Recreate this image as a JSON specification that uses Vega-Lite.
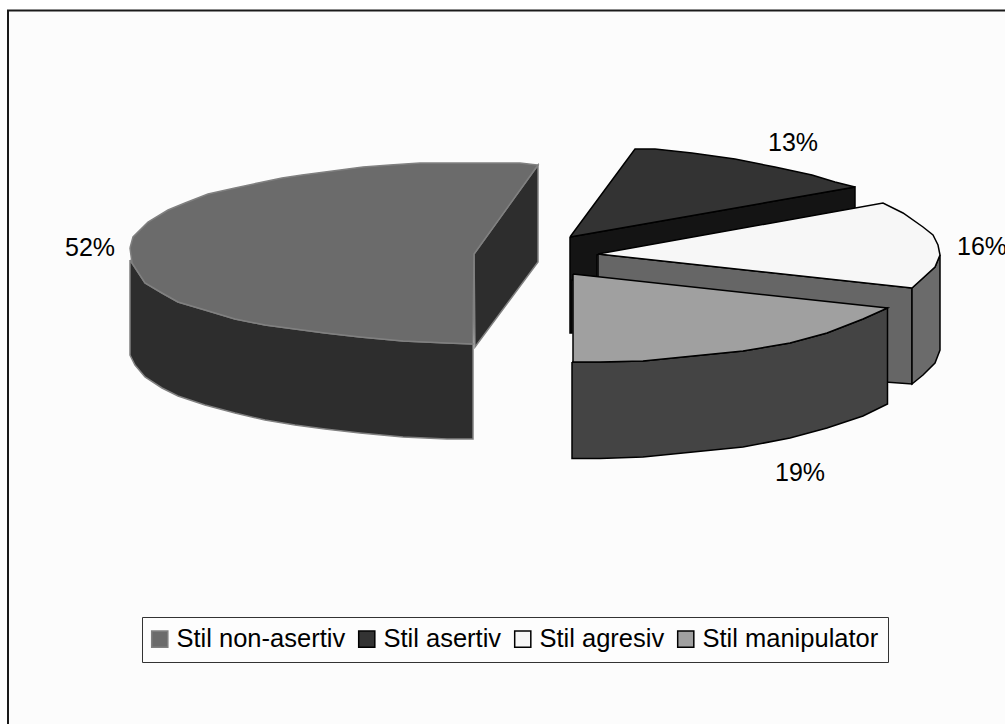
{"$schema":"https://vega.github.io/schema/vega-lite/v6.json","width":1005,"height":724,"autosize":{"type":"none"},"padding":0,"background":"#ffffff","config":{"view":{"stroke":null}},
"datasets":{
"frame":[{"x":1012,"y":732,"o":0},{"x":8,"y":732,"o":1},{"x":8,"y":10.5,"o":2},{"x":1012,"y":10.5,"o":3}],
"sides":[
{"fata":"non-asertiv exterior","o":0,"x":130,"y":260},{"fata":"non-asertiv exterior","o":1,"x":145,"y":283},{"fata":"non-asertiv exterior","o":2,"x":162,"y":293},{"fata":"non-asertiv exterior","o":3,"x":178,"y":302},{"fata":"non-asertiv exterior","o":4,"x":205,"y":310},{"fata":"non-asertiv exterior","o":5,"x":235,"y":319},{"fata":"non-asertiv exterior","o":6,"x":265,"y":325},{"fata":"non-asertiv exterior","o":7,"x":295,"y":329},{"fata":"non-asertiv exterior","o":8,"x":325,"y":333},{"fata":"non-asertiv exterior","o":9,"x":360,"y":337},{"fata":"non-asertiv exterior","o":10,"x":403,"y":341},{"fata":"non-asertiv exterior","o":11,"x":447,"y":343},{"fata":"non-asertiv exterior","o":12,"x":473,"y":344},{"fata":"non-asertiv exterior","o":13,"x":473,"y":439},{"fata":"non-asertiv exterior","o":14,"x":447,"y":439},{"fata":"non-asertiv exterior","o":15,"x":403,"y":437},{"fata":"non-asertiv exterior","o":16,"x":360,"y":433},{"fata":"non-asertiv exterior","o":17,"x":325,"y":429},{"fata":"non-asertiv exterior","o":18,"x":295,"y":425},{"fata":"non-asertiv exterior","o":19,"x":265,"y":420},{"fata":"non-asertiv exterior","o":20,"x":235,"y":413},{"fata":"non-asertiv exterior","o":21,"x":205,"y":405},{"fata":"non-asertiv exterior","o":22,"x":178,"y":396},{"fata":"non-asertiv exterior","o":23,"x":162,"y":388},{"fata":"non-asertiv exterior","o":24,"x":145,"y":377},{"fata":"non-asertiv exterior","o":25,"x":135,"y":365},{"fata":"non-asertiv exterior","o":26,"x":130,"y":355},{"fata":"non-asertiv exterior","o":27,"x":130,"y":260},
{"fata":"non-asertiv interior","o":0,"x":474,"y":254},{"fata":"non-asertiv interior","o":1,"x":538,"y":165},{"fata":"non-asertiv interior","o":2,"x":538,"y":262},{"fata":"non-asertiv interior","o":3,"x":475,"y":347},{"fata":"non-asertiv interior","o":4,"x":474,"y":254},
{"fata":"asertiv interior","o":0,"x":570,"y":237},{"fata":"asertiv interior","o":1,"x":855,"y":187},{"fata":"asertiv interior","o":2,"x":855,"y":209},{"fata":"asertiv interior","o":3,"x":597,"y":255},{"fata":"asertiv interior","o":4,"x":597,"y":280},{"fata":"asertiv interior","o":5,"x":572,"y":280},{"fata":"asertiv interior","o":6,"x":572,"y":333},{"fata":"asertiv interior","o":7,"x":570,"y":333},{"fata":"asertiv interior","o":8,"x":570,"y":237},
{"fata":"agresiv interior","o":0,"x":598,"y":254},{"fata":"agresiv interior","o":1,"x":912,"y":288},{"fata":"agresiv interior","o":2,"x":912,"y":384},{"fata":"agresiv interior","o":3,"x":885,"y":382},{"fata":"agresiv interior","o":4,"x":598,"y":300},{"fata":"agresiv interior","o":5,"x":598,"y":254},
{"fata":"agresiv exterior","o":0,"x":912,"y":288},{"fata":"agresiv exterior","o":1,"x":923,"y":278},{"fata":"agresiv exterior","o":2,"x":935,"y":267},{"fata":"agresiv exterior","o":3,"x":940,"y":255},{"fata":"agresiv exterior","o":4,"x":940,"y":350},{"fata":"agresiv exterior","o":5,"x":935,"y":363},{"fata":"agresiv exterior","o":6,"x":923,"y":375},{"fata":"agresiv exterior","o":7,"x":912,"y":384},{"fata":"agresiv exterior","o":8,"x":912,"y":288},
{"fata":"manipulator exterior","o":0,"x":572,"y":362},{"fata":"manipulator exterior","o":1,"x":600,"y":362},{"fata":"manipulator exterior","o":2,"x":643,"y":361},{"fata":"manipulator exterior","o":3,"x":693,"y":356},{"fata":"manipulator exterior","o":4,"x":743,"y":351},{"fata":"manipulator exterior","o":5,"x":790,"y":343},{"fata":"manipulator exterior","o":6,"x":827,"y":333},{"fata":"manipulator exterior","o":7,"x":863,"y":319},{"fata":"manipulator exterior","o":8,"x":887.5,"y":308},{"fata":"manipulator exterior","o":9,"x":887.5,"y":404},{"fata":"manipulator exterior","o":10,"x":863,"y":416},{"fata":"manipulator exterior","o":11,"x":827,"y":428},{"fata":"manipulator exterior","o":12,"x":790,"y":438},{"fata":"manipulator exterior","o":13,"x":743,"y":447},{"fata":"manipulator exterior","o":14,"x":693,"y":452},{"fata":"manipulator exterior","o":15,"x":643,"y":457},{"fata":"manipulator exterior","o":16,"x":600,"y":458.5},{"fata":"manipulator exterior","o":17,"x":572,"y":458.5},{"fata":"manipulator exterior","o":18,"x":572,"y":362}
],
"tops":[
{"stil":"Stil non-asertiv","o":0,"x":130,"y":248},{"stil":"Stil non-asertiv","o":1,"x":133,"y":237},{"stil":"Stil non-asertiv","o":2,"x":148,"y":222},{"stil":"Stil non-asertiv","o":3,"x":168,"y":210},{"stil":"Stil non-asertiv","o":4,"x":185,"y":203},{"stil":"Stil non-asertiv","o":5,"x":208,"y":194},{"stil":"Stil non-asertiv","o":6,"x":235,"y":188},{"stil":"Stil non-asertiv","o":7,"x":258,"y":183},{"stil":"Stil non-asertiv","o":8,"x":282,"y":178},{"stil":"Stil non-asertiv","o":9,"x":302,"y":175},{"stil":"Stil non-asertiv","o":10,"x":325,"y":172},{"stil":"Stil non-asertiv","o":11,"x":363,"y":167},{"stil":"Stil non-asertiv","o":12,"x":390,"y":165},{"stil":"Stil non-asertiv","o":13,"x":420,"y":163},{"stil":"Stil non-asertiv","o":14,"x":520,"y":163},{"stil":"Stil non-asertiv","o":15,"x":538,"y":165},{"stil":"Stil non-asertiv","o":16,"x":474,"y":254},{"stil":"Stil non-asertiv","o":17,"x":473,"y":344},{"stil":"Stil non-asertiv","o":18,"x":447,"y":343},{"stil":"Stil non-asertiv","o":19,"x":403,"y":341},{"stil":"Stil non-asertiv","o":20,"x":360,"y":337},{"stil":"Stil non-asertiv","o":21,"x":325,"y":333},{"stil":"Stil non-asertiv","o":22,"x":295,"y":329},{"stil":"Stil non-asertiv","o":23,"x":265,"y":325},{"stil":"Stil non-asertiv","o":24,"x":235,"y":319},{"stil":"Stil non-asertiv","o":25,"x":205,"y":310},{"stil":"Stil non-asertiv","o":26,"x":178,"y":302},{"stil":"Stil non-asertiv","o":27,"x":162,"y":293},{"stil":"Stil non-asertiv","o":28,"x":145,"y":283},{"stil":"Stil non-asertiv","o":29,"x":132,"y":263},{"stil":"Stil non-asertiv","o":30,"x":130,"y":248},
{"stil":"Stil asertiv","o":0,"x":570,"y":237},{"stil":"Stil asertiv","o":1,"x":635,"y":149},{"stil":"Stil asertiv","o":2,"x":655,"y":149},{"stil":"Stil asertiv","o":3,"x":692,"y":153},{"stil":"Stil asertiv","o":4,"x":735,"y":159},{"stil":"Stil asertiv","o":5,"x":775,"y":167},{"stil":"Stil asertiv","o":6,"x":812,"y":175},{"stil":"Stil asertiv","o":7,"x":835,"y":182},{"stil":"Stil asertiv","o":8,"x":855,"y":187},{"stil":"Stil asertiv","o":9,"x":570,"y":237},
{"stil":"Stil agresiv","o":0,"x":598,"y":254},{"stil":"Stil agresiv","o":1,"x":883,"y":203},{"stil":"Stil agresiv","o":2,"x":903,"y":213},{"stil":"Stil agresiv","o":3,"x":923,"y":227},{"stil":"Stil agresiv","o":4,"x":933,"y":235},{"stil":"Stil agresiv","o":5,"x":938,"y":245},{"stil":"Stil agresiv","o":6,"x":940,"y":255},{"stil":"Stil agresiv","o":7,"x":935,"y":267},{"stil":"Stil agresiv","o":8,"x":923,"y":278},{"stil":"Stil agresiv","o":9,"x":912,"y":288},{"stil":"Stil agresiv","o":10,"x":598,"y":254},
{"stil":"Stil manipulator","o":0,"x":573,"y":274},{"stil":"Stil manipulator","o":1,"x":887.5,"y":308},{"stil":"Stil manipulator","o":2,"x":863,"y":319},{"stil":"Stil manipulator","o":3,"x":827,"y":333},{"stil":"Stil manipulator","o":4,"x":790,"y":343},{"stil":"Stil manipulator","o":5,"x":743,"y":351},{"stil":"Stil manipulator","o":6,"x":693,"y":356},{"stil":"Stil manipulator","o":7,"x":643,"y":361},{"stil":"Stil manipulator","o":8,"x":600,"y":362},{"stil":"Stil manipulator","o":9,"x":573,"y":362},{"stil":"Stil manipulator","o":10,"x":573,"y":274}
],
"labels":[{"stil":"Stil non-asertiv","pct":"52%","x":90,"y":256},{"stil":"Stil asertiv","pct":"13%","x":793,"y":151},{"stil":"Stil agresiv","pct":"16%","x":982,"y":255},{"stil":"Stil manipulator","pct":"19%","x":800,"y":481}]
},
"layer":[
{"data":{"name":"frame"},"mark":{"type":"line","stroke":"#1a1a1a","strokeWidth":2,"fill":"#fcfcfc","interpolate":"linear"},
"encoding":{"x":{"field":"x","type":"quantitative","scale":{"domain":[0,1005],"nice":false,"zero":false},"axis":null},"y":{"field":"y","type":"quantitative","scale":{"domain":[724,0],"nice":false,"zero":false},"axis":null},"order":{"field":"o"}}},
{"data":{"name":"sides"},"mark":{"type":"line","strokeWidth":1.5,"interpolate":"linear"},
"encoding":{"x":{"field":"x","type":"quantitative","scale":{"domain":[0,1005],"nice":false,"zero":false},"axis":null},"y":{"field":"y","type":"quantitative","scale":{"domain":[724,0],"nice":false,"zero":false},"axis":null},"order":{"field":"o"},
"fill":{"field":"fata","type":"nominal","legend":null,"scale":{"domain":["non-asertiv exterior","non-asertiv interior","asertiv interior","agresiv interior","agresiv exterior","manipulator exterior"],"range":["#2d2d2d","#2d2d2d","#141414","#666666","#6b6b6b","#444444"]}},
"stroke":{"field":"fata","type":"nominal","legend":null,"scale":{"domain":["non-asertiv exterior","non-asertiv interior","asertiv interior","agresiv interior","agresiv exterior","manipulator exterior"],"range":["#808080","#808080","#000000","#000000","#000000","#000000"]}}}},
{"data":{"name":"tops"},"mark":{"type":"line","strokeWidth":1.5,"interpolate":"linear"},
"encoding":{"x":{"field":"x","type":"quantitative","scale":{"domain":[0,1005],"nice":false,"zero":false},"axis":null},"y":{"field":"y","type":"quantitative","scale":{"domain":[724,0],"nice":false,"zero":false},"axis":null},"order":{"field":"o"},
"fill":{"field":"stil","type":"nominal","sort":null,"title":null,"scale":{"domain":["Stil non-asertiv","Stil asertiv","Stil agresiv","Stil manipulator"],"range":["#6b6b6b","#333333","#f7f7f7","#a0a0a0"]},
"legend":{"orient":"none","legendX":142,"legendY":617,"direction":"horizontal","columns":4,"padding":9,"columnPadding":9,"strokeColor":"#333333","fillColor":"#fdfdfd","labelFont":"Liberation Sans","labelFontSize":25.5,"labelColor":"#000000","labelLimit":300,"labelOffset":4,"symbolOffset":-4,"symbolType":"square","symbolSize":260,"symbolStrokeWidth":1.5,"symbolOpacity":1}},
"stroke":{"field":"stil","type":"nominal","sort":null,"title":null,"scale":{"domain":["Stil non-asertiv","Stil asertiv","Stil agresiv","Stil manipulator"],"range":["#808080","#000000","#000000","#000000"]}}}},
{"data":{"name":"labels"},"mark":{"type":"text","font":"Liberation Sans","fontSize":25,"color":"#000000","align":"center","baseline":"alphabetic"},
"encoding":{"x":{"field":"x","type":"quantitative","scale":{"domain":[0,1005],"nice":false,"zero":false},"axis":null},"y":{"field":"y","type":"quantitative","scale":{"domain":[724,0],"nice":false,"zero":false},"axis":null},"text":{"field":"pct","type":"nominal"}}}
],
"resolve":{"scale":{"fill":"independent","stroke":"independent"}}}
